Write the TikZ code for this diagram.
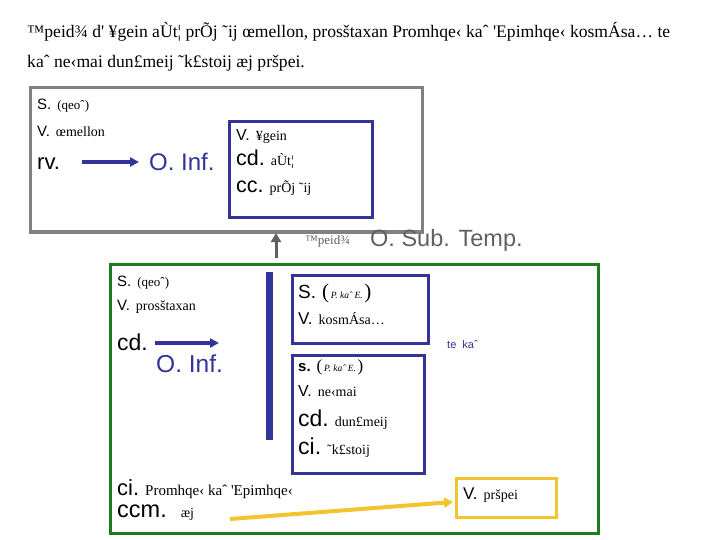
\documentclass[tikz,border=0pt]{standalone}
\usepackage{fontspec}
\setmainfont{Liberation Serif}
\setsansfont{Liberation Sans}
\usetikzlibrary{arrows.meta}
\definecolor{gbox}{HTML}{808080}
\definecolor{bl}{HTML}{333399}
\definecolor{gr}{HTML}{1E7B1E}
\definecolor{yl}{HTML}{F2C530}
\definecolor{tg}{HTML}{606060}
\newcommand{\SF}[2]{{\sffamily\fontsize{#1}{#1}\selectfont #2}}
\newcommand{\RM}[2]{{\rmfamily\fontsize{#1}{#1}\selectfont #2}}
\newcommand{\PKE}[1]{\RM{#1}{(}\,{\rmfamily\itshape\fontsize{9.5}{9.5}\selectfont P.\ kaˆ\ E.}\,\RM{#1}{)}}
\newcommand{\gap}{\hspace{6pt}}
\begin{document}
\begin{tikzpicture}[x=1pt,y=-1pt,
  txt/.style={inner sep=0pt, anchor=base west},
  graybox/.style={draw=gbox, line width=3pt},
  bluebox/.style={draw=bl, line width=3pt},
  greenbox/.style={draw=gr, line width=3pt},
  yellowbox/.style={draw=yl, line width=3pt},
  barrow/.style={draw=bl, line width=3.5pt, -{Triangle[length=9pt,width=9pt]}},
  garrow/.style={draw=tg, line width=3pt, -{Triangle[length=9pt,width=10pt]}},
  yarrow/.style={draw=yl, line width=4pt, -{Triangle[length=9pt,width=10pt]}}]
\useasboundingbox[fill=white] (0,0) rectangle (720,540);

% header
\node[txt] (h1) at (27,38) {\RM{17.6}{™peid¾ d\textquotesingle{} ¥gein aÙt¦ prÕj ˜ij œmellon, prosštaxan Promhqe‹ kaˆ \textquotesingle Epimhqe‹ kosmÁsa… te}};
\node[txt] (h2) at (27,68) {\RM{17.6}{kaˆ ne‹mai dun£meij ˜k£stoij æj pršpei.}};

% gray box
\draw[graybox] (30,88) rectangle (422,232);
\node[txt] (g1) at (37,110) {\SF{15}{S.}\gap\RM{13}{(qeoˆ)}};
\node[txt] (g2) at (37,137) {\SF{15}{V.}\gap\RM{14}{œmellon}};
\node[txt] (g3) at (37,170) {\SF{22}{rv.}};
\coordinate (ga1) at (82,162);
\coordinate (ga2) at (139,162);
\draw[barrow] (ga1) -- (ga2);
\node[txt, text=bl] (g4) at (149,171) {\SF{24}{O. Inf.}};
\draw[bluebox] (229,122) rectangle (372,218);
\node[txt] (b1) at (236,141) {\SF{16}{V.}\gap\RM{14}{¥gein}};
\node[txt] (b2) at (236,166) {\SF{21.5}{cd.}\gap\RM{14}{aÙt¦}};
\node[txt] (b3) at (236,193) {\SF{21.5}{cc.}\gap\RM{14}{prÕj ˜ij}};

% subordinate label
\coordinate (ua) at (276,258);
\coordinate (ub) at (276,233);
\draw[garrow] (ua) -- (ub);
\node[txt, text=tg] (s1) at (305,244) {\RM{13}{™peid¾}};
\node[txt, text=tg] (s2) at (370,246) {\SF{23.5}{O. Sub. Temp.}};

% green box
\draw[greenbox] (110,264) rectangle (598,533);
\node[txt] (e1) at (117,286) {\SF{15}{S.}\gap\RM{13}{(qeoˆ)}};
\node[txt] (e2) at (117,310) {\SF{15}{V.}\gap\RM{14}{prosštaxan}};
\node[txt] (e3) at (117,350) {\SF{23}{cd.}};
\coordinate (ea1) at (155,343);
\coordinate (ea2) at (219,343);
\draw[barrow] (ea1) -- (ea2);
\node[txt, text=bl] (e4) at (156,372) {\SF{24.5}{O. Inf.}};
\draw[draw=bl, line width=7pt] (269,272) -- (269,440);

\draw[bluebox] (292,275) rectangle (428,343);
\node[txt] (c1) at (298,298) {\SF{19}{S.}\gap\PKE{21}};
\node[txt] (c2) at (298,324) {\SF{17}{V.}\gap\RM{14}{kosmÁsa…}};
\node[txt, text=bl] (tk) at (447,348) {\SF{11}{te\ \ kaˆ}};

\draw[bluebox] (292,355) rectangle (424,473);
\node[txt] (d1) at (298,371) {\SF{15}{\bfseries s.}\gap\PKE{17}};
\node[txt] (d2) at (298,396) {\SF{16}{V.}\gap\RM{14}{ne‹mai}};
\node[txt] (d3) at (298,426) {\SF{23}{cd.}\gap\RM{14}{dun£meij}};
\node[txt] (d4) at (298,454) {\SF{23}{ci.}\gap\RM{14}{˜k£stoij}};

\node[txt] (f1) at (117,495) {\SF{22}{ci.}\gap\RM{15}{Promhqe‹ kaˆ \textquotesingle Epimhqe‹}};
\node[txt] (f2) at (117,517) {\SF{23.5}{ccm.}\hspace{14pt}\RM{14}{æj}};
\draw[yellowbox] (456,478) rectangle (556,517);
\node[txt] (y1) at (463,499) {\SF{17}{V.}\gap\RM{14}{pršpei}};
\coordinate (ya) at (230,519);
\coordinate (yb) at (453,502);
\draw[yarrow] (ya) -- (yb);
\end{tikzpicture}
\end{document}
